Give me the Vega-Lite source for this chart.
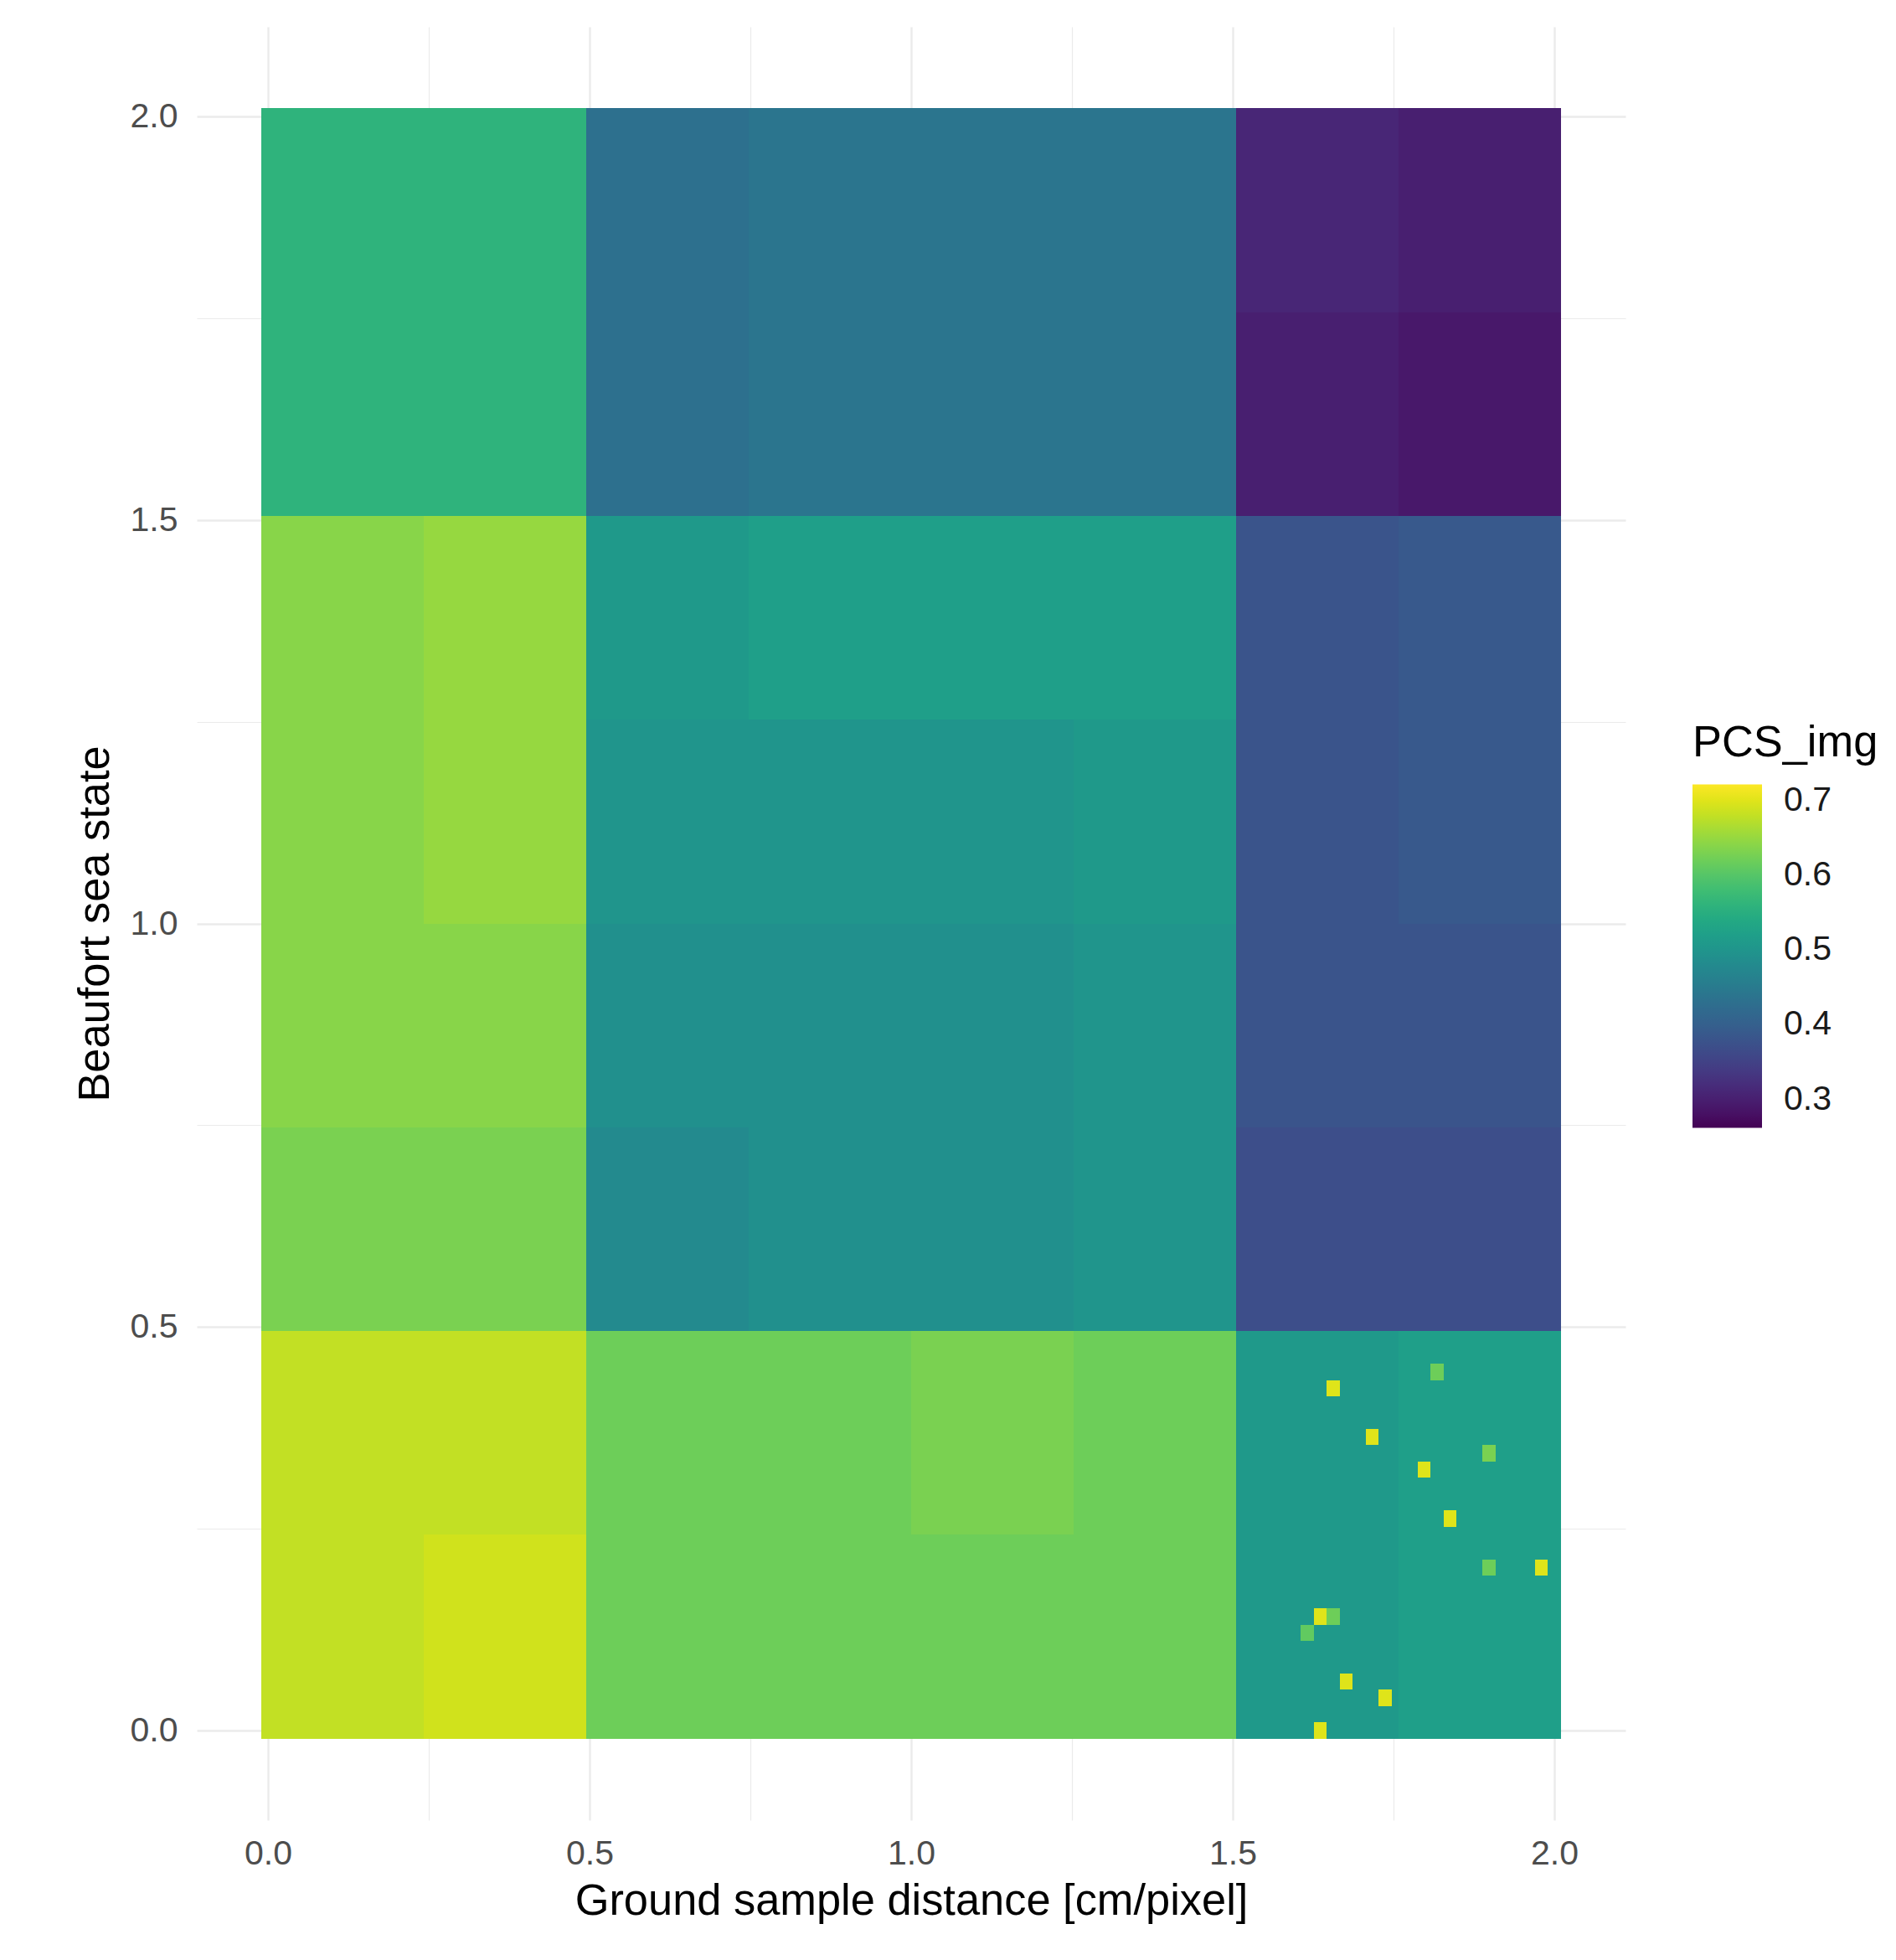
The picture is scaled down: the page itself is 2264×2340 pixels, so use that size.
{
  "$schema": "https://vega.github.io/schema/vega-lite/v6.json",
  "width": 1706,
  "height": 2141,
  "autosize": {"type": "none"},
  "padding": {"left": 235, "top": 32, "right": 323, "bottom": 167},
  "background": "white",
  "view": {"stroke": null},
  "data": {"values": [
    {"x0":-0.0101,"x1":0.2424,"y0":1.7576,"y1":2.0101,"v":0.56},{"x0":0.2424,"x1":0.4949,"y0":1.7576,"y1":2.0101,"v":0.56},
    {"x0":0.4949,"x1":0.7475,"y0":1.7576,"y1":2.0101,"v":0.43},{"x0":0.7475,"x1":1.0,"y0":1.7576,"y1":2.0101,"v":0.44},
    {"x0":1.0,"x1":1.2525,"y0":1.7576,"y1":2.0101,"v":0.44},{"x0":1.2525,"x1":1.5051,"y0":1.7576,"y1":2.0101,"v":0.44},
    {"x0":1.5051,"x1":1.7576,"y0":1.7576,"y1":2.0101,"v":0.31},{"x0":1.7576,"x1":2.0101,"y0":1.7576,"y1":2.0101,"v":0.30},

    {"x0":-0.0101,"x1":0.2424,"y0":1.5051,"y1":1.7576,"v":0.56},{"x0":0.2424,"x1":0.4949,"y0":1.5051,"y1":1.7576,"v":0.56},
    {"x0":0.4949,"x1":0.7475,"y0":1.5051,"y1":1.7576,"v":0.43},{"x0":0.7475,"x1":1.0,"y0":1.5051,"y1":1.7576,"v":0.44},
    {"x0":1.0,"x1":1.2525,"y0":1.5051,"y1":1.7576,"v":0.44},{"x0":1.2525,"x1":1.5051,"y0":1.5051,"y1":1.7576,"v":0.44},
    {"x0":1.5051,"x1":1.7576,"y0":1.5051,"y1":1.7576,"v":0.30},{"x0":1.7576,"x1":2.0101,"y0":1.5051,"y1":1.7576,"v":0.29},

    {"x0":-0.0101,"x1":0.2424,"y0":1.2525,"y1":1.5051,"v":0.64},{"x0":0.2424,"x1":0.4949,"y0":1.2525,"y1":1.5051,"v":0.65},
    {"x0":0.4949,"x1":0.7475,"y0":1.2525,"y1":1.5051,"v":0.51},{"x0":0.7475,"x1":1.0,"y0":1.2525,"y1":1.5051,"v":0.52},
    {"x0":1.0,"x1":1.2525,"y0":1.2525,"y1":1.5051,"v":0.52},{"x0":1.2525,"x1":1.5051,"y0":1.2525,"y1":1.5051,"v":0.52},
    {"x0":1.5051,"x1":1.7576,"y0":1.2525,"y1":1.5051,"v":0.38},{"x0":1.7576,"x1":2.0101,"y0":1.2525,"y1":1.5051,"v":0.39},

    {"x0":-0.0101,"x1":0.2424,"y0":1.0,"y1":1.2525,"v":0.64},{"x0":0.2424,"x1":0.4949,"y0":1.0,"y1":1.2525,"v":0.65},
    {"x0":0.4949,"x1":0.7475,"y0":1.0,"y1":1.2525,"v":0.50},{"x0":0.7475,"x1":1.0,"y0":1.0,"y1":1.2525,"v":0.50},
    {"x0":1.0,"x1":1.2525,"y0":1.0,"y1":1.2525,"v":0.50},{"x0":1.2525,"x1":1.5051,"y0":1.0,"y1":1.2525,"v":0.51},
    {"x0":1.5051,"x1":1.7576,"y0":1.0,"y1":1.2525,"v":0.38},{"x0":1.7576,"x1":2.0101,"y0":1.0,"y1":1.2525,"v":0.39},

    {"x0":-0.0101,"x1":0.2424,"y0":0.7475,"y1":1.0,"v":0.64},{"x0":0.2424,"x1":0.4949,"y0":0.7475,"y1":1.0,"v":0.64},
    {"x0":0.4949,"x1":0.7475,"y0":0.7475,"y1":1.0,"v":0.49},{"x0":0.7475,"x1":1.0,"y0":0.7475,"y1":1.0,"v":0.49},
    {"x0":1.0,"x1":1.2525,"y0":0.7475,"y1":1.0,"v":0.49},{"x0":1.2525,"x1":1.5051,"y0":0.7475,"y1":1.0,"v":0.50},
    {"x0":1.5051,"x1":1.7576,"y0":0.7475,"y1":1.0,"v":0.38},{"x0":1.7576,"x1":2.0101,"y0":0.7475,"y1":1.0,"v":0.38},

    {"x0":-0.0101,"x1":0.2424,"y0":0.4949,"y1":0.7475,"v":0.63},{"x0":0.2424,"x1":0.4949,"y0":0.4949,"y1":0.7475,"v":0.63},
    {"x0":0.4949,"x1":0.7475,"y0":0.4949,"y1":0.7475,"v":0.48},{"x0":0.7475,"x1":1.0,"y0":0.4949,"y1":0.7475,"v":0.49},
    {"x0":1.0,"x1":1.2525,"y0":0.4949,"y1":0.7475,"v":0.49},{"x0":1.2525,"x1":1.5051,"y0":0.4949,"y1":0.7475,"v":0.50},
    {"x0":1.5051,"x1":1.7576,"y0":0.4949,"y1":0.7475,"v":0.37},{"x0":1.7576,"x1":2.0101,"y0":0.4949,"y1":0.7475,"v":0.37},

    {"x0":-0.0101,"x1":0.2424,"y0":0.2424,"y1":0.4949,"v":0.68},{"x0":0.2424,"x1":0.4949,"y0":0.2424,"y1":0.4949,"v":0.68},
    {"x0":0.4949,"x1":0.7475,"y0":0.2424,"y1":0.4949,"v":0.62},{"x0":0.7475,"x1":1.0,"y0":0.2424,"y1":0.4949,"v":0.62},
    {"x0":1.0,"x1":1.2525,"y0":0.2424,"y1":0.4949,"v":0.63},{"x0":1.2525,"x1":1.5051,"y0":0.2424,"y1":0.4949,"v":0.62},
    {"x0":1.5051,"x1":1.7576,"y0":0.2424,"y1":0.4949,"v":0.51},{"x0":1.7576,"x1":2.0101,"y0":0.2424,"y1":0.4949,"v":0.52},

    {"x0":-0.0101,"x1":0.2424,"y0":-0.0101,"y1":0.2424,"v":0.68},{"x0":0.2424,"x1":0.4949,"y0":-0.0101,"y1":0.2424,"v":0.69},
    {"x0":0.4949,"x1":0.7475,"y0":-0.0101,"y1":0.2424,"v":0.62},{"x0":0.7475,"x1":1.0,"y0":-0.0101,"y1":0.2424,"v":0.62},
    {"x0":1.0,"x1":1.2525,"y0":-0.0101,"y1":0.2424,"v":0.62},{"x0":1.2525,"x1":1.5051,"y0":-0.0101,"y1":0.2424,"v":0.62},
    {"x0":1.5051,"x1":1.7576,"y0":-0.0101,"y1":0.2424,"v":0.51},{"x0":1.7576,"x1":2.0101,"y0":-0.0101,"y1":0.2424,"v":0.52},

    {"x0":1.6465,"x1":1.6667,"y0":0.4141,"y1":0.4343,"v":0.70},
    {"x0":1.7071,"x1":1.7273,"y0":0.3535,"y1":0.3737,"v":0.70},
    {"x0":1.7879,"x1":1.8081,"y0":0.3131,"y1":0.3333,"v":0.70},
    {"x0":1.8283,"x1":1.8485,"y0":0.2525,"y1":0.2727,"v":0.70},
    {"x0":1.9697,"x1":1.9899,"y0":0.1919,"y1":0.2121,"v":0.70},
    {"x0":1.6263,"x1":1.6465,"y0":0.1313,"y1":0.1515,"v":0.70},
    {"x0":1.6667,"x1":1.6869,"y0":0.0505,"y1":0.0707,"v":0.70},
    {"x0":1.7273,"x1":1.7475,"y0":0.0303,"y1":0.0505,"v":0.70},
    {"x0":1.6263,"x1":1.6465,"y0":-0.0101,"y1":0.0101,"v":0.70},
    {"x0":1.8081,"x1":1.8283,"y0":0.4343,"y1":0.4545,"v":0.62},
    {"x0":1.8889,"x1":1.9091,"y0":0.3333,"y1":0.3535,"v":0.63},
    {"x0":1.8889,"x1":1.9091,"y0":0.1919,"y1":0.2121,"v":0.62},
    {"x0":1.6465,"x1":1.6667,"y0":0.1313,"y1":0.1515,"v":0.62},
    {"x0":1.6061,"x1":1.6263,"y0":0.1111,"y1":0.1313,"v":0.61}
  ]},
  "mark": {"type": "rect", "stroke": null},
  "encoding": {
    "x": {"field": "x0", "type": "quantitative",
          "title": "Ground sample distance [cm/pixel]",
          "scale": {"domain": [-0.111, 2.111], "nice": false, "zero": false, "round": true},
          "axis": {"values": [0, 0.25, 0.5, 0.75, 1, 1.25, 1.5, 1.75, 2],
                   "labelExpr": "datum.value * 2 % 1 == 0 ? format(datum.value, '.1f') : ''",
                   "gridWidth": {"condition": {"test": "datum.value * 2 % 1 == 0", "value": 2.4}, "value": 1.2},
                   "labelPadding": 20, "titlePadding": 11}},
    "x2": {"field": "x1"},
    "y": {"field": "y0", "type": "quantitative",
          "title": "Beaufort sea state",
          "scale": {"domain": [-0.111, 2.111], "nice": false, "zero": false, "round": true},
          "axis": {"values": [0, 0.25, 0.5, 0.75, 1, 1.25, 1.5, 1.75, 2],
                   "labelExpr": "datum.value * 2 % 1 == 0 ? format(datum.value, '.1f') : ''",
                   "gridWidth": {"condition": {"test": "datum.value * 2 % 1 == 0", "value": 2.4}, "value": 1.2},
                   "labelPadding": 23, "titlePadding": 15}},
    "y2": {"field": "y1"},
    "color": {"field": "v", "type": "quantitative",
              "title": "PCS_img",
              "scale": {"scheme": "viridis", "domain": [0.262, 0.722], "nice": false, "zero": false},
              "legend": {"orient": "none", "legendX": 1786, "legendY": 830,
                         "values": [0.3, 0.4, 0.5, 0.6, 0.7], "format": ".1f",
                         "gradientLength": 410, "gradientThickness": 83,
                         "gradientStrokeWidth": 0, "labelOverlap": false,
                         "labelOffset": 26, "titlePadding": 22, "titleLimit": 400}}
  },
  "config": {
    "font": "Liberation Sans",
    "axis": {"grid": true, "gridColor": "#ebebeb", "ticks": false, "domain": false,
             "labelFontSize": 41, "labelColor": "#4d4d4d", "labelOverlap": false,
             "titleFontSize": 52.4, "titleFontWeight": "normal", "titleColor": "black"},
    "legend": {"labelFontSize": 41, "labelColor": "#1a1a1a",
               "titleFontSize": 52.4, "titleFontWeight": "normal", "titleColor": "black"}
  }
}
